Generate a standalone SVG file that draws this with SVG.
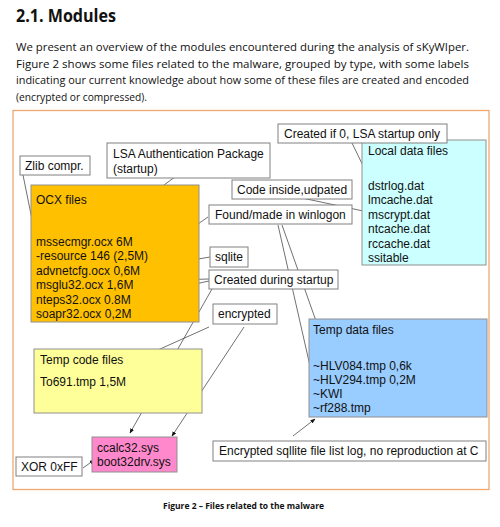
<svg xmlns="http://www.w3.org/2000/svg" width="500" height="527" viewBox="0 0 500 527">
<style>
.doc{font-family:"Open Sans","Noto Sans","Liberation Sans",sans-serif;fill:#111}
.t{font-family:"Liberation Sans",Arial,sans-serif;font-size:12px;fill:#111}
.lbl{fill:#fff;stroke:#808080;stroke-width:1}
.grp{stroke:#909090;stroke-width:1}
.c{stroke:#333;stroke-width:0.7;fill:none;marker-end:url(#ah)}
</style>
<defs>
<marker id="ah" viewBox="0 0 10 10" refX="9" refY="5" markerWidth="5" markerHeight="5" markerUnits="userSpaceOnUse" orient="auto">
<path d="M0,1 L10,5 L0,9 z" fill="#111"/>
</marker>
</defs>
<rect width="500" height="527" fill="#fff"/>
<g id="header">
<text class="doc" x="16" y="22" font-size="18" font-weight="bold" textLength="100" lengthAdjust="spacingAndGlyphs">2.1.  Modules</text>
<text class="doc" x="16" y="51" font-size="10.8" textLength="453" lengthAdjust="spacingAndGlyphs">We present an overview of the modules encountered during the analysis of sKyWIper.</text>
<text class="doc" x="16" y="68" font-size="10.8" textLength="453" lengthAdjust="spacingAndGlyphs">Figure 2 shows some files related to the malware, grouped by type, with some labels</text>
<text class="doc" x="16" y="84" font-size="10.8" textLength="453" lengthAdjust="spacingAndGlyphs">indicating our current knowledge about how some of these files are created and encoded</text>
<text class="doc" x="16" y="101" font-size="10.8" textLength="131" lengthAdjust="spacingAndGlyphs">(encrypted or compressed).</text>
</g>
<rect id="frame" x="13" y="110.5" width="476" height="379" fill="#fff" stroke="#f0a870" stroke-width="1.3"/>
<g id="connectors">
<line class="c" x1="352" y1="143" x2="369" y2="178"/>
<line class="c" x1="183" y1="171" x2="103" y2="230"/>
<line class="c" x1="23" y1="175" x2="38" y2="249"/>
<line class="c" x1="302" y1="198" x2="368" y2="212"/>
<line class="c" x1="208" y1="217" x2="138" y2="266"/>
<line class="c" x1="210" y1="257" x2="140" y2="269"/>
<line class="c" x1="209" y1="279" x2="138" y2="281"/>
<line class="c" x1="209" y1="281" x2="139" y2="296"/>
<line class="c" x1="212" y1="289" x2="130" y2="433"/>
<line class="c" x1="209" y1="327" x2="100" y2="376"/>
<line class="c" x1="244" y1="327" x2="172" y2="436"/>
<line class="c" x1="282" y1="225" x2="327" y2="352"/>
<line class="c" x1="278" y1="225" x2="315" y2="388"/>
<line class="c" x1="293" y1="436" x2="315" y2="419"/>
<line class="c" x1="83" y1="468" x2="94" y2="460"/>
</g>
<g id="ocx-files">
<rect class="grp" x="31" y="185" width="168" height="137" fill="#ffc000"/>
<text class="t" x="36" y="204">OCX files</text>
<text class="t" x="36" y="246">mssecmgr.ocx 6M</text>
<text class="t" x="36" y="260">-resource 146 (2,5M)</text>
<text class="t" x="36" y="275">advnetcfg.ocx 0,6M</text>
<text class="t" x="36" y="289">msglu32.ocx 1,6M</text>
<text class="t" x="36" y="304">nteps32.ocx 0.8M</text>
<text class="t" x="36" y="318">soapr32.ocx 0,2M</text>
</g>
<g id="local-data-files">
<rect class="grp" x="362" y="140" width="124" height="125" fill="#ccffff"/>
<text class="t" x="368" y="155">Local data files</text>
<text class="t" x="368" y="190">dstrlog.dat</text>
<text class="t" x="368" y="204">lmcache.dat</text>
<text class="t" x="368" y="219">mscrypt.dat</text>
<text class="t" x="368" y="233">ntcache.dat</text>
<text class="t" x="368" y="248">rccache.dat</text>
<text class="t" x="368" y="262">ssitable</text>
</g>
<g id="temp-code-files">
<rect class="grp" x="34" y="349" width="168" height="64" fill="#ffff99"/>
<text class="t" x="40" y="364">Temp code files</text>
<text class="t" x="40" y="386">To691.tmp 1,5M</text>
</g>
<g id="temp-data-files">
<rect class="grp" x="309" y="319" width="178" height="98" fill="#99ccff"/>
<text class="t" x="313" y="334">Temp data files</text>
<text class="t" x="313" y="370">~HLV084.tmp 0,6k</text>
<text class="t" x="313" y="384">~HLV294.tmp 0,2M</text>
<text class="t" x="313" y="398">~KWI</text>
<text class="t" x="313" y="412">~rf288.tmp</text>
</g>
<g id="sys-files">
<rect class="grp" x="92" y="437" width="85" height="35" fill="#ff88cc"/>
<text class="t" x="97" y="452">ccalc32.sys</text>
<text class="t" x="97" y="466">boot32drv.sys</text>
</g>
<g id="label-created-if-0">
<rect class="lbl" x="278" y="124" width="169" height="19"/>
<text class="t" x="284" y="138">Created if 0, LSA startup only</text>
</g>
<g id="label-lsa">
<rect class="lbl" x="107" y="143" width="163" height="35"/>
<text class="t" x="113" y="158">LSA Authentication Package</text>
<text class="t" x="113" y="173">(startup)</text>
</g>
<g id="label-zlib">
<rect class="lbl" x="20" y="156" width="70" height="19"/>
<text class="t" x="25" y="170">Zlib compr.</text>
</g>
<g id="label-code-inside">
<rect class="lbl" x="232" y="180" width="120" height="19"/>
<text class="t" x="237" y="194">Code inside,udpated</text>
</g>
<g id="label-winlogon">
<rect class="lbl" x="209" y="205" width="143" height="19"/>
<text class="t" x="215" y="219">Found/made in winlogon</text>
</g>
<g id="label-sqlite">
<rect class="lbl" x="210" y="247" width="38" height="20"/>
<text class="t" x="215" y="261">sqlite</text>
</g>
<g id="label-startup">
<rect class="lbl" x="209" y="270" width="129" height="19"/>
<text class="t" x="214" y="284">Created during startup</text>
</g>
<g id="label-encrypted">
<rect class="lbl" x="213" y="304" width="64" height="20"/>
<text class="t" x="218" y="318">encrypted</text>
</g>
<g id="label-sqllite-log">
<rect class="lbl" x="213" y="441" width="273" height="20"/>
<text class="t" x="219" y="455">Encrypted sqllite file list log, no reproduction at C</text>
</g>
<g id="label-xor">
<rect class="lbl" x="16" y="457" width="66" height="19"/>
<text class="t" x="21" y="471">XOR 0xFF</text>
</g>
<text class="doc" x="163" y="509" font-size="8" font-weight="bold" textLength="161" lengthAdjust="spacingAndGlyphs">Figure 2 – Files related to the malware</text>
</svg>
